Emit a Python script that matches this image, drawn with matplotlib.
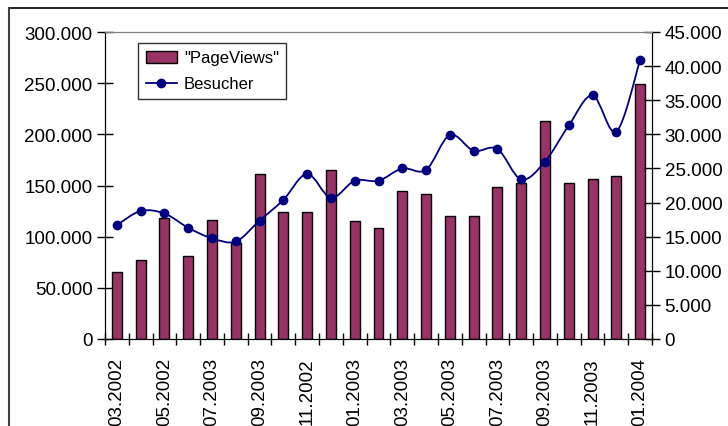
import matplotlib
matplotlib.use('Agg')
import matplotlib.pyplot as plt
from matplotlib.path import Path
from matplotlib.patches import PathPatch
from matplotlib.lines import Line2D
from matplotlib.ticker import FuncFormatter, MultipleLocator, FixedLocator
import numpy as np

plt.rcParams['font.family'] = ['Liberation Sans', 'DejaVu Sans']

# Daten
months = ['03.2002', '04.2002', '05.2002', '06.2002', '07.2003', '08.2002',
          '09.2003', '10.2002', '11.2002', '12.2002', '01.2003', '02.2003',
          '03.2003', '04.2003', '05.2003', '06.2003', '07.2003', '08.2003',
          '09.2003', '10.2003', '11.2003', '12.2003', '01.2004']
page_views = [65200, 77500, 118000, 81400, 116000, 93500, 161000, 124400,
              124400, 164800, 115000, 108000, 144600, 142000, 120500, 120500,
              148800, 152800, 213000, 152800, 156700, 159600, 249500]
besucher = [16700, 18760, 18400, 16300, 14760, 14300, 17350, 20400, 24200,
            20700, 23200, 23200, 25000, 24800, 29900, 27600, 27850, 23400,
            26000, 31300, 35700, 30400, 40900]


def dot_fmt(v, pos):
    return '{:,.0f}'.format(v).replace(',', '.')


def smooth_path(xs, ys):
    # Bezier-Glaettung wie bei Excel (Kontrollpunkte aus Nachbarpunkten)
    pts = list(zip(xs, ys))
    n = len(pts)
    verts = [pts[0]]
    codes = [Path.MOVETO]
    for i in range(n - 1):
        p0 = np.array(pts[i - 1] if i > 0 else pts[i])
        p1 = np.array(pts[i])
        p2 = np.array(pts[i + 1])
        p3 = np.array(pts[i + 2] if i + 2 < n else pts[i + 1])
        c1 = p1 + (p2 - p0) / 6.0
        c2 = p2 - (p3 - p1) / 6.0
        verts += [tuple(c1), tuple(c2), tuple(p2)]
        codes += [Path.CURVE4, Path.CURVE4, Path.CURVE4]
    return Path(verts, codes)


fig = plt.figure(figsize=(7.28, 4.27), dpi=100)
ax = fig.add_axes([105 / 728, 87 / 427, 547 / 728, 307 / 427])
ax2 = ax.twinx()

x = np.arange(len(months))
bars = ax.bar(x, page_views, width=0.42, color='#993366', edgecolor='black',
              linewidth=1.0, label='"PageViews"', zorder=2)

ax.set_xlim(-0.5, len(months) - 0.5)
ax.set_ylim(0, 300000)
ax.yaxis.set_major_locator(MultipleLocator(50000))
ax.yaxis.set_major_formatter(FuncFormatter(dot_fmt))

ax2.set_ylim(0, 45000)
ax2.yaxis.set_major_locator(MultipleLocator(5000))
ax2.yaxis.set_major_formatter(FuncFormatter(dot_fmt))

ax2.add_patch(PathPatch(smooth_path(x, besucher), facecolor='none',
                        edgecolor='#000080', linewidth=1.3, zorder=3))
ax2.plot(x, besucher, linestyle='none', marker='o', markersize=6,
         color='#000080', zorder=4)

# x-Achse: Striche zwischen den Kategorien, Beschriftung jeden zweiten Monat
ax.xaxis.set_major_locator(FixedLocator(x[::2]))
ax.set_xticklabels(months[::2], rotation=90, fontsize=13.5)
ax.tick_params(axis='x', which='major', length=0, pad=13)
ax.xaxis.set_minor_locator(FixedLocator(np.arange(-0.5, len(months), 1.0)))
ax.tick_params(axis='x', which='minor', direction='inout', length=9, width=1)

ax.tick_params(axis='y', direction='inout', length=12, width=1,
               labelsize=13.5, pad=3)
ax2.tick_params(axis='y', direction='inout', length=12, width=1,
                labelsize=13.5, pad=3)

for a in (ax, ax2):
    a.spines['top'].set_color('#808080')
    a.spines['left'].set_color('black')
    a.spines['right'].set_color('black')
    a.spines['bottom'].set_color('black')

ax.patch.set_visible(False)

handles = [bars, Line2D([0], [0], color='#000080', lw=1.3, marker='o',
                        markersize=6)]
leg = ax2.legend(handles, ['"PageViews"', 'Besucher'], loc='upper left',
                 bbox_to_anchor=(33 / 547, 1 - 11 / 307), fontsize=12,
                 frameon=True, fancybox=False, borderaxespad=0,
                 handlelength=1.9, handletextpad=0.4, labelspacing=0.65,
                 borderpad=0.45)
leg.get_frame().set_edgecolor('black')
leg.get_frame().set_linewidth(1.0)

# Rahmen des Diagrammbereichs (oben und links)
fig.add_artist(Line2D([9 / 728, 1.0], [1 - 9 / 427, 1 - 9 / 427],
                      transform=fig.transFigure, color='black', lw=1.2))
fig.add_artist(Line2D([9 / 728, 9 / 728], [0, 1 - 9 / 427],
                      transform=fig.transFigure, color='#404040', lw=1.5))

fig.savefig('out.png', dpi=100)
